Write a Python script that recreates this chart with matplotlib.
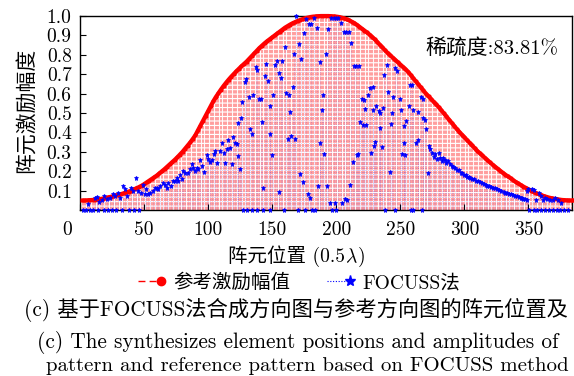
import matplotlib
matplotlib.use('Agg')
import matplotlib.pyplot as plt
from matplotlib.lines import Line2D
from matplotlib.legend_handler import HandlerLine2D
from matplotlib.offsetbox import TextArea, HPacker, AnnotationBbox
from matplotlib.transforms import ScaledTranslation

plt.rcParams['font.family'] = ['cmr10', 'Noto Sans CJK SC']
plt.rcParams['mathtext.fontset'] = 'cm'
plt.rcParams['axes.unicode_minus'] = False
plt.rcParams['axes.formatter.use_mathtext'] = True

# ---------------- data ----------------
ref_pos = list(range(2, 385, 2))
ref_amp = [
    0.049, 0.049, 0.050, 0.051, 0.052, 0.053, 0.055, 0.057, 0.059, 0.062,
    0.065, 0.068, 0.071, 0.075, 0.078, 0.082, 0.086, 0.091, 0.095, 0.100,
    0.106, 0.112, 0.118, 0.125, 0.133, 0.142, 0.151, 0.160, 0.169, 0.178,
    0.189, 0.200, 0.211, 0.223, 0.235, 0.247, 0.259, 0.272, 0.286, 0.300,
    0.316, 0.332, 0.348, 0.366, 0.385, 0.410, 0.435, 0.460, 0.485, 0.510,
    0.536, 0.560, 0.582, 0.602, 0.621, 0.639, 0.656, 0.672, 0.687, 0.701,
    0.715, 0.728, 0.741, 0.753, 0.765, 0.779, 0.793, 0.807, 0.821, 0.835,
    0.847, 0.859, 0.870, 0.880, 0.890, 0.900, 0.910, 0.920, 0.930, 0.940,
    0.948, 0.956, 0.963, 0.969, 0.975, 0.980, 0.985, 0.989, 0.992, 0.995,
    0.997, 0.998, 0.999, 1.000, 1.000, 1.000, 1.000, 0.999, 0.998, 0.997,
    0.995, 0.992, 0.988, 0.983, 0.978, 0.971, 0.964, 0.955, 0.945, 0.935,
    0.925, 0.915, 0.904, 0.892, 0.880, 0.866, 0.852, 0.838, 0.824, 0.810,
    0.798, 0.786, 0.774, 0.762, 0.750, 0.738, 0.726, 0.713, 0.697, 0.680,
    0.664, 0.648, 0.632, 0.616, 0.600, 0.586, 0.572, 0.558, 0.544, 0.530,
    0.514, 0.498, 0.482, 0.466, 0.450, 0.434, 0.418, 0.403, 0.389, 0.375,
    0.361, 0.347, 0.333, 0.319, 0.305, 0.293, 0.281, 0.269, 0.257, 0.245,
    0.234, 0.223, 0.213, 0.202, 0.192, 0.182, 0.173, 0.164, 0.154, 0.145,
    0.137, 0.129, 0.121, 0.114, 0.107, 0.100, 0.093, 0.087, 0.082, 0.077,
    0.072, 0.068, 0.064, 0.061, 0.058, 0.056, 0.054, 0.052, 0.051, 0.050,
    0.049, 0.049,
]

focuss_pos = [
    # 0-50
    2, 5, 8, 10, 14, 19, 22, 25, 28, 33, 38, 42, 46,
    6.5, 11.7, 13.5, 15, 17, 18.8, 20.8, 23.4, 26, 27.3, 30, 31, 33.3, 35,
    36.5, 39.6, 41.6, 43.8, 45.6, 47.4, 49,
    # 50-125
    50.8, 51.5, 53.4, 54.7, 57.3, 58.6, 60, 61.2, 62.5, 65.1, 66.4, 68, 69,
    70.8, 72.9, 74.2, 75.5, 76.8, 78.1, 79.4, 80.7, 82, 84.6, 85.9, 87.2,
    88.5, 89.8, 91, 92.4, 93.7, 95, 96.4, 99, 100.2, 101.6, 102.9, 104.2,
    105.5, 106.8, 109.4, 110.7, 112, 113.3, 114.6, 115.9, 117.2, 118.5,
    119.8, 121.1, 122.4, 123.7, 125,
    # 123-272
    123.7, 125.8, 126.8, 128.9, 129.4, 132, 132.8, 134, 135, 137, 138, 140,
    141, 142, 143.2, 144, 145, 147, 148, 148.4, 149.8, 151, 152, 154, 155,
    155.7, 157, 157.8, 160, 160.7, 162, 163, 164, 164.8, 166, 167, 168,
    168.8, 170.6, 171.9, 172.6, 174, 175, 176.6, 177.9, 178.4, 179.7, 180.5,
    182.8, 184.6, 185.7, 187, 187.5, 188.5, 190, 190.6, 191.7, 192.7, 193.8,
    194.8, 196, 198, 199.2, 200, 201.6, 204, 204.4, 206, 206.5, 207.5, 208.3,
    209.6, 211, 211.7, 213, 213.5, 215.6, 216, 217, 217.7, 218.8, 220, 221,
    221.5, 222.4, 223, 224.5, 226.6, 226.9, 228.6, 229, 229.5, 230.5, 231,
    233, 233.8, 234.4, 235.7, 236.5, 237.5, 239.6, 240, 241.6, 242.7, 243.5,
    244, 246, 247.4, 249.5, 250.8, 251, 252.6, 253, 254, 254.7, 256.5,
    257.8, 259, 260, 262.5, 263.5, 264, 266, 267.4, 268, 269.5, 270, 271.6,
    127.6, 130, 134.5, 138.5, 143, 148.4, 159, 170.5, 175.8, 181, 183.6,
    196.6, 199.5, 238, 246, 258, 260, 267,
    # 272-349 band
    272, 273.4, 274.8, 276, 277.3, 278.5, 280, 281, 282.5, 283.5, 285, 286,
    287.5, 289, 290, 291.5, 293, 294, 295.5, 297, 298, 299.5, 301, 302,
    303.5, 304.7, 306, 307.5, 309, 310.5, 312, 313.5, 315, 316.5, 318, 319.5,
    321, 322.5, 324, 325.5, 327, 328.5, 330.7, 332, 333.5, 335, 336.5, 338,
    339.5, 341, 342.5, 344, 345, 346, 347.5, 348.5,
    # 349-384
    349, 350, 352.9, 354, 356, 358, 360, 361.5, 363, 364.6, 367, 369, 371,
    373, 375.5,
    350.5, 354, 357, 360, 363, 366, 369, 372, 375, 378, 381,
]
focuss_amp = [
    # 0-50
    0, 0, 0, 0, 0, 0, 0, 0, 0, 0, 0, 0, 0,
    0.032, 0.063, 0.068, 0.040, 0.054, 0.071, 0.058, 0.063, 0.080, 0.071,
    0.089, 0.063, 0.126, 0.106, 0.071, 0.114, 0.097, 0.166, 0.097, 0.088,
    0.131,
    # 50-125
    0.085, 0.106, 0.080, 0.089, 0.100, 0.114, 0.114, 0.106, 0.123, 0.140,
    0.131, 0.114, 0.140, 0.123, 0.148, 0.148, 0.166, 0.148, 0.178, 0.161,
    0.200, 0.192, 0.192, 0.212, 0.235, 0.218, 0.200, 0.217, 0.209, 0.260,
    0.226, 0.195, 0.286, 0.264, 0.246, 0.260, 0.291, 0.303, 0.243, 0.303,
    0.343, 0.295, 0.240, 0.315, 0.360, 0.320, 0.235, 0.377, 0.343, 0.338,
    0.277, 0.212,
    # 123-272
    0.450, 0.472, 0.556, 0.662, 0.676, 0.583, 0.415, 0.394, 0.595, 0.738,
    0.724, 0.573, 0.570, 0.455, 0.114, 0.690, 0.753, 0.664, 0.535, 0.394,
    0.286, 0.595, 0.745, 0.770, 0.704, 0.092, 0.680, 0.770, 0.840, 0.604,
    0.367, 0.595, 0.504, 0.380, 0.635, 0.805, 0.367, 0.999, 0.857, 0.188,
    0.776, 0.143, 0.913, 0.987, 0.085, 0.961, 0.063, 0.961, 0.990, 0.940,
    0.123, 0.764, 0.343, 0.518, 0.595, 0.290, 0.805, 0.126, 0.934, 0.037,
    0.990, 0.990, 0.034, 0.990, 0.990, 0.965, 0.034, 0.915, 0.058, 0.920,
    0.049, 0.915, 0.131, 0.862, 0.246, 0.740, 0.740, 0.286, 0.291, 0.740,
    0.452, 0.573, 0.440, 0.565, 0.523, 0.440, 0.595, 0.630, 0.295, 0.513,
    0.633, 0.332, 0.350, 0.535, 0.510, 0.501, 0.424, 0.326, 0.527, 0.698,
    0.746, 0.609, 0.195, 0.444, 0.501, 0.583, 0.733, 0.719, 0.570, 0.518,
    0.290, 0.432, 0.343, 0.286, 0.458, 0.535, 0.643, 0.643, 0.518, 0.346,
    0.363, 0.504, 0.583, 0.570, 0.475, 0.463, 0.415, 0.192,
    0, 0, 0, 0, 0, 0, 0, 0, 0, 0, 0,
    0, 0, 0, 0, 0, 0, 0,
    # 272-349 band
    0.332, 0.312, 0.295, 0.274, 0.291, 0.262, 0.295, 0.269, 0.255, 0.270,
    0.260, 0.240, 0.250, 0.235, 0.225, 0.220, 0.215, 0.205, 0.208, 0.192,
    0.190, 0.182, 0.178, 0.172, 0.170, 0.166, 0.160, 0.158, 0.150, 0.148,
    0.142, 0.138, 0.135, 0.130, 0.126, 0.122, 0.120, 0.115, 0.112, 0.108,
    0.104, 0.100, 0.092, 0.090, 0.086, 0.083, 0.080, 0.077, 0.073, 0.070,
    0.067, 0.064, 0.062, 0.058, 0.055, 0.050,
    # 349-384
    0.097, 0.106, 0.110, 0.102, 0.054, 0.089, 0.070, 0.054, 0.063, 0.058,
    0.054, 0.054, 0.060, 0.054, 0.037,
    0, 0, 0, 0, 0, 0, 0, 0, 0, 0, 0,
]

x_ticks = [0, 50, 100, 150, 200, 250, 300, 350]
y_ticks = [0.1, 0.2, 0.3, 0.4, 0.5, 0.6, 0.7, 0.8, 0.9, 1.0]
y_tick_labels = ['0.1', '0.2', '0.3', '0.4', '0.5', '0.6', '0.7', '0.8', '0.9', '1.0']

ref_label = '参考激励幅值'
focuss_label = 'FOCUSS法'
sparsity_text = '稀疏度:83.81%'
x_label_parts = ['阵元位置 (0.5', '$\\lambda$', ')']
y_label = '阵元激励幅度'
# caption lines as far as they are visible in the reference crop
caption_cn = '(c) 基于FOCUSS法合成方向图与参考方向图的阵元位置及'
caption_en1 = '(c) The synthesizes element positions and amplitudes of'
caption_en2 = 'pattern and reference pattern based on FOCUSS method'


class EndMarkerHandler(HandlerLine2D):
    def create_artists(self, legend, orig_handle, xdescent, ydescent, width,
                       height, fontsize, trans):
        arts = super().create_artists(legend, orig_handle, xdescent, ydescent,
                                      width, height, fontsize, trans)
        for a in arts:
            n = len(a.get_xdata())
            a.set_markevery([n - 1])
        return arts


# ---------------- figure ----------------
W, H = 574, 376
fig = plt.figure(figsize=(W / 100, H / 100), dpi=100)
ax = fig.add_axes([80 / W, 1 - 210 / H, (572 - 80) / W, (210 - 16) / H])

# reference stems (dashed red)
ax.vlines(ref_pos, 0, ref_amp, colors='#ff0000', alpha=0.37, linewidth=1.5,
          linestyles=(0, (1.6, 0.55)), zorder=1)
# FOCUSS stems (dotted blue)
ax.vlines(focuss_pos, 0, focuss_amp, colors='#0000ff', alpha=0.22,
          linewidth=0.6, linestyles=(0, (1, 1.5)), zorder=2)
ax.plot(ref_pos, ref_amp, color='#ff0000', linewidth=3.0, marker='o',
        markersize=2.0, zorder=3, clip_on=False)
ax.plot(focuss_pos, focuss_amp, linestyle='none', marker='*', color='#0000ff',
        markersize=3.6, markeredgewidth=0.5, zorder=4, clip_on=False)

ax.set_xlim(0, 384)
ax.set_ylim(0, 1.0)
ax.set_xticks(x_ticks)
ax.set_xticklabels([str(v) for v in x_ticks])
ax.set_yticks(y_ticks)
ax.set_yticklabels(y_tick_labels)
ax.tick_params(direction='in', length=4, width=0.8, labelsize=14, pad=6,
               top=False, right=False)
ax.tick_params(axis='x', pad=8)
for sp in ax.spines.values():
    sp.set_linewidth(1.0)

# shift the "0" label left like the reference
lbl0 = ax.get_xticklabels()[0]
lbl0.set_transform(lbl0.get_transform() +
                   ScaledTranslation(-13 / 100, 0, fig.dpi_scale_trans))

fig.text(425 / W, 1 - 48 / H, sparsity_text, fontsize=15, ha='left',
         va='center')

fig.text(26 / W, 1 - 110 / H, y_label, rotation=90, ha='center', va='center',
         fontsize=15)

xl_box = HPacker(children=[TextArea(p, textprops=dict(fontsize=14))
                           for p in x_label_parts],
                 align='baseline', pad=0, sep=0)
fig.add_artist(AnnotationBbox(xl_box, (297 / W, 1 - 256 / H),
                              xycoords='figure fraction', frameon=False,
                              box_alignment=(0.5, 0.5), pad=0))

h_ref = Line2D([], [], color='#ff0000', linewidth=1.0, linestyle=(0, (5, 3)),
               marker='o', markersize=6)
h_foc = Line2D([], [], color='#0000ff', linewidth=0.8, linestyle=(0, (1, 1.5)),
               marker='*', markersize=8)
fig.legend([h_ref, h_foc], [ref_label, focuss_label], loc='center',
           bbox_to_anchor=(296 / W, 1 - 283 / H), ncol=2, frameon=False,
           numpoints=2, handlelength=1.8, handletextpad=0.3,
           columnspacing=1.6, fontsize=14,
           handler_map={Line2D: EndMarkerHandler()})

fig.text(24 / W, 1 - 310 / H, caption_cn, ha='left', va='center', fontsize=15.3)
fig.text(37 / W, 1 - 342 / H, caption_en1, ha='left', va='center', fontsize=15.3)
fig.text(46 / W, 1 - 366 / H, caption_en2, ha='left', va='center', fontsize=15.0)

fig.savefig('out.png', dpi=100)
